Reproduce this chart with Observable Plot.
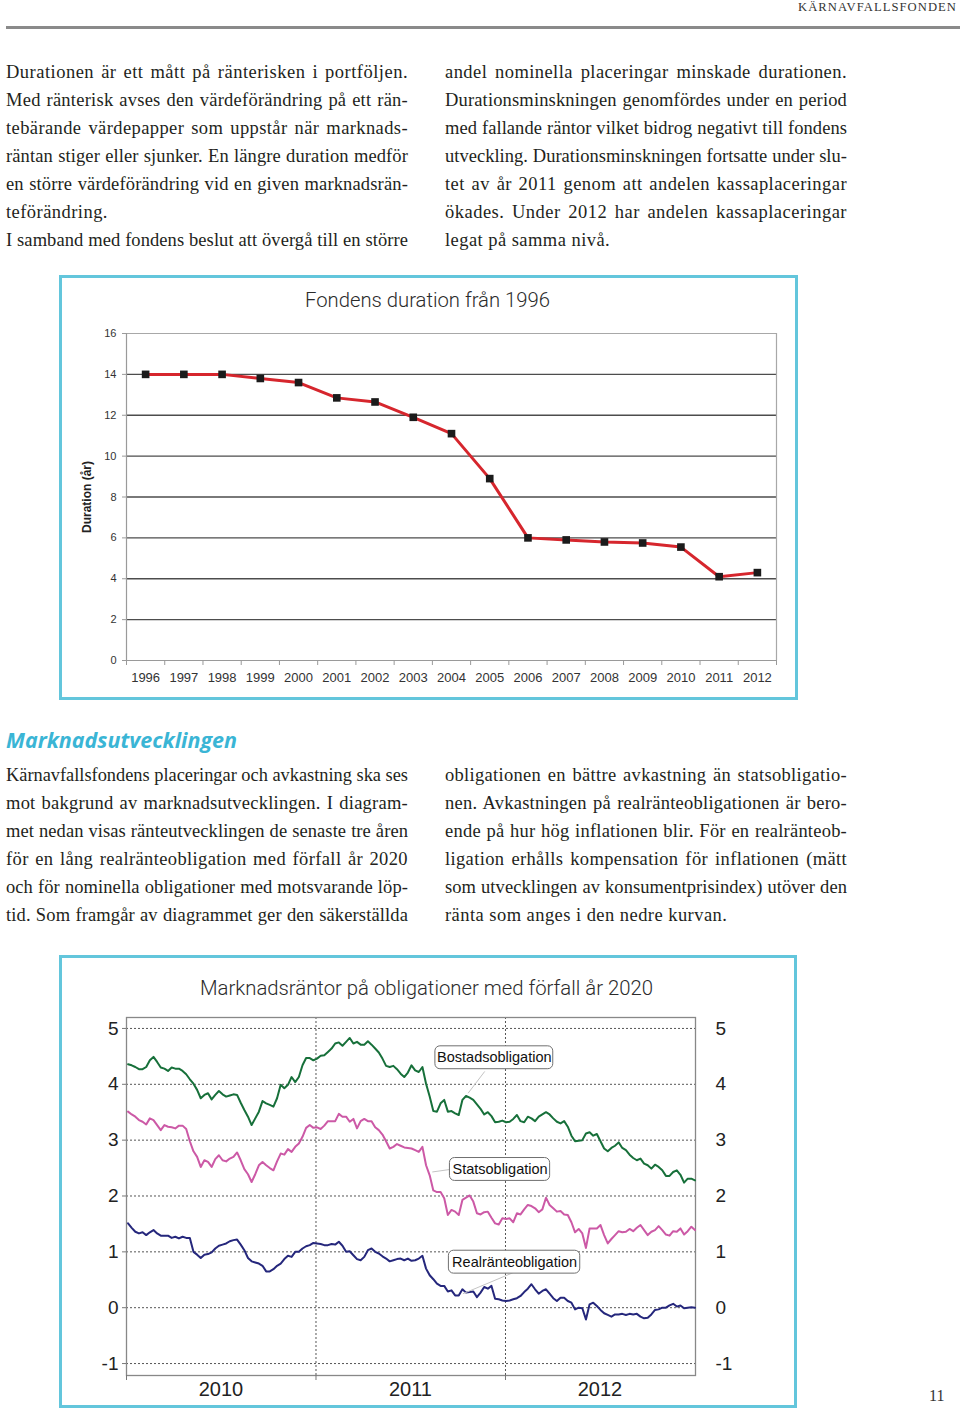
<!DOCTYPE html>
<html>
<head>
<meta charset="utf-8">
<script src="https://cdn.jsdelivr.net/npm/d3@7"></script>
<script src="https://cdn.jsdelivr.net/npm/@observablehq/plot@0.6"></script>
<style>
  html, body { margin: 0; padding: 0; background: #fff; }
  body { width: 960px; height: 1411px; position: relative; overflow: hidden; color: #231f20; font-family: "Liberation Serif", "Times New Roman", serif; }
  .abs { position: absolute; white-space: nowrap; }
  .tl { font-size: 18.5px; line-height: 28px; }
  .box { position: absolute; border: 3px solid #63c6dc; box-sizing: border-box; }
  .ctitle { font-family: Roboto, "Liberation Sans", sans-serif; font-weight: 300; font-size: 21px; line-height: 28px; color: #2b2b2b; }
  .plotwrap { position: absolute; left: 0; }
</style>
</head>
<body>

<div class="abs" data-w="159" data-mode="s" style="left:798px; top:0px; font-size:12px; line-height:14px; letter-spacing:1px; color:#333;">KÄRNAVFALLSFONDEN</div>
<div class="abs" style="left:6px; top:26px; width:954px; height:3px; background:#8a8a8a;"></div>

<div class="box" style="left:59px; top:275px; width:739px; height:425px;"></div>
<div class="abs ctitle" data-w="245" data-mode="s" style="left:305px; top:286px;">Fondens duration från 1996</div>
<div id="chart1" class="plotwrap" style="top:300px;"></div>

<div class="abs" data-w="231" data-mode="s" style="left:6px; top:726px; font-family:'Open Sans', sans-serif; font-weight:700; font-style:italic; font-size:21px; line-height:28px; color:#3ab5d5;">Marknadsutvecklingen</div>

<div class="box" style="left:59px; top:955px; width:738px; height:453px;"></div>
<div class="abs ctitle" data-w="453" data-mode="s" style="left:200px; top:974px;">Marknadsräntor på obligationer med förfall år 2020</div>
<div id="chart2" class="plotwrap" style="top:1000px;"></div>

<div class="abs" style="left:929px; top:1386px; font-size:16px; line-height:20px; color:#333;">11</div>

<script>
// ---------- Text content ----------
const textLeftTop = [
  ["Durationen är ett mått på ränterisken i portföljen.", "j"],
  ["Med ränterisk avses den värdeförändring på ett rän-", "j"],
  ["tebärande värdepapper som uppstår när marknads-", "j"],
  ["räntan stiger eller sjunker. En längre duration medför", "j"],
  ["en större värdeförändring vid en given marknadsrän-", "j"],
  ["teförändring.", "l"],
  ["I samband med fondens beslut att övergå till en större", "j"]
];
const textRightTop = [
  ["andel nominella placeringar minskade durationen.", "j"],
  ["Durationsminskningen genomfördes under en period", "j"],
  ["med fallande räntor vilket bidrog negativt till fondens", "j"],
  ["utveckling. Durationsminskningen fortsatte under slu-", "j"],
  ["tet av år 2011 genom att andelen kassaplaceringar", "j"],
  ["ökades. Under 2012 har andelen kassaplaceringar", "j"],
  ["legat på samma nivå.", "l"]
];
const textLeftBottom = [
  ["Kärnavfallsfondens placeringar och avkastning ska ses", "j"],
  ["mot bakgrund av marknadsutvecklingen. I diagram-", "j"],
  ["met nedan visas ränteutvecklingen de senaste tre åren", "j"],
  ["för en lång realränteobligation med förfall år 2020", "j"],
  ["och för nominella obligationer med motsvarande löp-", "j"],
  ["tid. Som framgår av diagrammet ger den säkerställda", "j"]
];
const textRightBottom = [
  ["obligationen en bättre avkastning än statsobligatio-", "j"],
  ["nen. Avkastningen på realränteobligationen är bero-", "j"],
  ["ende på hur hög inflationen blir. För en realränteob-", "j"],
  ["ligation erhålls kompensation för inflationen (mätt", "j"],
  ["som utvecklingen av konsumentprisindex) utöver den", "j"],
  ["ränta som anges i den nedre kurvan.", "l"]
];

// ---------- Chart 1 data ----------
const years = ["1996","1997","1998","1999","2000","2001","2002","2003","2004","2005","2006","2007","2008","2009","2010","2011","2012"];
const duration = [14, 14, 14, 13.8, 13.6, 12.85, 12.65, 11.9, 11.1, 8.9, 6.0, 5.9, 5.8, 5.75, 5.55, 4.1, 4.3];
const durTicks = [0, 2, 4, 6, 8, 10, 12, 14, 16];

// ---------- Chart 2 data (weekly readings, Jan 2010 - Dec 2012) ----------
const bostad = [4.36,4.34,4.31,4.27,4.27,4.31,4.43,4.49,4.40,4.30,4.28,4.24,4.30,4.28,4.28,4.24,4.18,4.09,4.01,3.90,3.75,3.81,3.84,3.73,3.81,3.88,3.82,3.78,3.80,3.82,3.81,3.67,3.54,3.42,3.27,3.39,3.51,3.70,3.66,
  3.63,3.60,3.75,3.99,3.93,3.99,4.13,4.04,4.13,4.34,4.47,4.47,4.43,4.46,4.51,4.52,4.58,4.64,4.73,4.75,4.69,4.76,4.83,4.73,4.76,4.71,4.71,4.77,4.71,4.64,4.57,4.46,4.33,4.31,4.33,4.27,4.19,4.13,4.21,4.34,
  4.25,4.22,4.31,4.01,3.78,3.52,3.51,3.66,3.72,3.51,3.52,3.48,3.45,3.72,3.79,3.76,3.72,3.64,3.56,3.46,3.50,3.43,3.32,3.33,3.35,3.32,3.33,3.38,3.45,3.34,3.32,3.42,3.39,3.34,3.42,3.46,3.50,3.46,3.39,3.33,
  3.30,3.34,3.24,3.08,2.98,2.99,3.00,3.12,3.14,3.08,3.11,2.98,2.85,2.80,2.86,2.90,2.96,2.86,2.82,2.74,2.68,2.64,2.67,2.58,2.55,2.49,2.56,2.52,2.46,2.36,2.36,2.43,2.46,2.38,2.24,2.31,2.31,2.28];
const stats = [3.51,3.46,3.42,3.36,3.33,3.28,3.39,3.36,3.27,3.18,3.27,3.24,3.23,3.21,3.26,3.26,3.20,2.98,2.80,2.70,2.52,2.64,2.61,2.52,2.66,2.73,2.64,2.62,2.67,2.70,2.78,2.64,2.48,2.39,2.25,2.39,2.55,2.61,2.55,
  2.50,2.46,2.62,2.76,2.74,2.84,2.79,2.88,2.94,3.06,3.22,3.27,3.22,3.23,3.20,3.26,3.34,3.34,3.34,3.47,3.42,3.42,3.33,3.38,3.21,3.34,3.38,3.34,3.34,3.23,3.18,3.10,2.98,2.85,2.88,2.93,2.90,2.87,2.86,2.85,
  2.82,2.79,2.88,2.55,2.37,2.10,2.07,2.07,1.96,1.66,1.75,1.72,1.66,1.93,1.97,2.01,1.90,1.69,1.67,1.71,1.72,1.61,1.51,1.49,1.60,1.59,1.60,1.53,1.69,1.67,1.76,1.84,1.82,1.78,1.71,1.76,1.97,1.84,1.78,1.72,
  1.73,1.67,1.66,1.53,1.35,1.41,1.33,1.07,1.42,1.42,1.42,1.48,1.30,1.15,1.23,1.30,1.37,1.35,1.36,1.41,1.37,1.43,1.48,1.39,1.30,1.36,1.39,1.46,1.39,1.31,1.29,1.37,1.36,1.42,1.31,1.37,1.45,1.39];
const real = [1.51,1.43,1.36,1.33,1.35,1.30,1.35,1.39,1.33,1.29,1.29,1.29,1.25,1.27,1.24,1.27,1.25,1.25,1.00,0.95,0.89,0.95,0.96,0.99,1.06,1.11,1.13,1.15,1.19,1.21,1.22,1.13,1.03,0.89,0.83,0.81,0.79,0.75,0.65,
  0.65,0.69,0.75,0.79,0.87,0.93,0.91,1.00,1.00,1.06,1.10,1.12,1.16,1.15,1.14,1.12,1.12,1.14,1.13,1.18,1.11,1.00,1.01,0.94,0.87,0.85,0.91,1.03,1.06,1.00,0.97,0.92,0.88,0.83,0.85,0.87,0.88,0.85,0.88,0.84,
  0.85,0.88,0.93,0.70,0.58,0.51,0.43,0.39,0.39,0.29,0.31,0.22,0.22,0.33,0.27,0.28,0.29,0.19,0.27,0.37,0.34,0.39,0.16,0.15,0.13,0.12,0.13,0.15,0.17,0.21,0.28,0.34,0.42,0.33,0.25,0.30,0.33,0.25,0.17,0.12,
  0.18,0.18,0.12,0.09,-0.03,0.00,-0.01,-0.21,0.06,0.09,0.03,-0.04,-0.10,-0.13,-0.16,-0.12,-0.12,-0.11,-0.13,-0.11,-0.12,-0.11,-0.16,-0.19,-0.18,-0.12,-0.04,-0.03,0.00,0.00,0.04,0.07,0.02,0.04,-0.01,0.00,0.01,0.00];
const rateTicks = [-1, 0, 1, 2, 3, 4, 5];
const yearStarts = ["2010-01-01", "2011-01-01", "2012-01-01"];
const yearLabelDates = ["2010-07-02", "2011-07-02", "2012-07-01"];

const seriesLabels = ["Bostadsobligation", "Statsobligation", "Realränteobligation"];
const labelBoxX1 = ["2011-08-19", "2011-09-16", "2011-09-14"];
const labelBoxX2 = ["2012-04-02", "2012-03-27", "2012-05-24"];
const labelBoxY1 = [4.27, 2.27, 0.61];
const labelBoxY2 = [4.68, 2.68, 1.02];
const leaderX1 = ["2011-11-22", "2011-09-20", "2012-01-15"];
const leaderY1 = [4.23, 2.48, 0.625];
const leaderX2 = ["2011-10-21", "2011-08-13", "2011-10-11"];
const leaderY2 = [3.84, 2.43, 0.25];

// ---------- Text layout ----------
function placeLines(lines, left, top0, width) {
  lines.forEach(([t, mode], i) => {
    const d = document.createElement("div");
    d.className = "abs tl";
    d.style.left = left + "px";
    d.style.top = (top0 + i * 28) + "px";
    d.textContent = t;
    d.dataset.w = width;
    d.dataset.mode = mode;
    document.body.appendChild(d);
  });
}
placeLines(textLeftTop, 6, 58, 402);
placeLines(textRightTop, 445, 58, 402);
placeLines(textLeftBottom, 6, 761, 402);
placeLines(textRightBottom, 445, 761, 402);

// ---------- Chart 1 ----------
const durData = years.map((y, i) => ({i, v: duration[i]}));
const chart1 = Plot.plot({
  width: 960, height: 400,
  marginLeft: 126, marginRight: 184, marginTop: 33, marginBottom: 40,
  style: {fontFamily: "'Liberation Sans', Arial, sans-serif", color: "#333", background: "transparent"},
  x: {type: "linear", domain: [-0.5, years.length - 0.5], label: null},
  y: {domain: [0, 16], label: null},
  marks: [
    Plot.ruleY(durTicks.filter(d => d > 0 && d < 16), {stroke: "#4d4d4d", strokeWidth: 1.4}),
    Plot.ruleY([16], {stroke: "#a8a8a8", strokeWidth: 1.2}),
    Plot.ruleY([0], {stroke: "#9a9a9a", strokeWidth: 1.2}),
    Plot.ruleX([-0.5], {stroke: "#9a9a9a", strokeWidth: 1.2}),
    Plot.ruleX([years.length - 0.5], {stroke: "#a8a8a8", strokeWidth: 1.2}),
    Plot.axisY({ticks: durTicks, tickSize: 4, tickPadding: 6, fontSize: 11, stroke: "#9a9a9a", fill: "#333", label: null}),
    Plot.axisX({ticks: d3.range(-0.5, years.length, 1), tickSize: 5, tickFormat: () => "", stroke: "#9a9a9a", label: null}),
    Plot.axisX({ticks: d3.range(years.length), tickSize: 0, tickPadding: 12, fontSize: 13, tickFormat: i => years[i], fill: "#333", label: null}),
    Plot.line(durData, {x: "i", y: "v", stroke: "#d6262d", strokeWidth: 3}),
    Plot.dot(durData, {x: "i", y: "v", symbol: "square", fill: "#1b1b1b", r: 4.3}),
    Plot.text(["Duration (år)"], {frameAnchor: "left", textAnchor: "middle", dx: -39, rotate: -90, fontWeight: "bold", fontSize: 12, fill: "#222"})
  ]
});
document.getElementById("chart1").appendChild(chart1);

// ---------- Chart 2 ----------
const weekDates = d3.utcMonday.range(new Date(Date.UTC(2010, 0, 4)), new Date(Date.UTC(2013, 0, 2)));
const mk = arr => arr.map((v, k) => ({date: weekDates[k], v})).filter(d => d.date);
const dt = s => new Date(s + "T00:00:00Z");
const boxes = seriesLabels.map((label, i) => ({
  label,
  x1: dt(labelBoxX1[i]), x2: dt(labelBoxX2[i]),
  y1: labelBoxY1[i], y2: labelBoxY2[i],
  xm: new Date((dt(labelBoxX1[i]).getTime() + dt(labelBoxX2[i]).getTime()) / 2),
  ym: (labelBoxY1[i] + labelBoxY2[i]) / 2
}));
const leaders = seriesLabels.map((label, i) => ({
  x1: dt(leaderX1[i]), y1: leaderY1[i], x2: dt(leaderX2[i]), y2: leaderY2[i]
}));
const intFmt = d => (d < 0 ? "-" : "") + Math.abs(d);

const chart2 = Plot.plot({
  width: 960, height: 410,
  marginLeft: 126, marginRight: 265, marginTop: 17, marginBottom: 35,
  style: {fontFamily: "'Liberation Sans', Arial, sans-serif", color: "#222", background: "transparent"},
  x: {type: "utc", domain: [dt("2010-01-01"), dt("2013-01-01")], label: null},
  y: {domain: [-1.214, 5.196], label: null},
  marks: [
    Plot.ruleY(rateTicks, {stroke: "#555", strokeDasharray: "2,2", strokeWidth: 1}),
    Plot.ruleX(yearStarts.slice(1).map(dt), {stroke: "#555", strokeDasharray: "2,2", strokeWidth: 1}),
    Plot.frame({stroke: "#888", strokeWidth: 1.3}),
    Plot.axisY({anchor: "left", ticks: rateTicks, tickSize: 4, tickPadding: 4, fontSize: 19, tickFormat: intFmt, stroke: "#777", fill: "#222", label: null}),
    Plot.axisY({anchor: "right", ticks: rateTicks, tickSize: 0, tickPadding: 20, fontSize: 19, tickFormat: intFmt, fill: "#222", label: null}),
    Plot.axisX({ticks: yearStarts.map(dt), tickSize: 5, tickFormat: () => "", stroke: "#777", label: null}),
    Plot.axisX({ticks: yearLabelDates.map(dt), tickSize: 0, tickPadding: 6, fontSize: 20, tickFormat: d => String(d.getUTCFullYear()), fill: "#222", label: null}),
    Plot.line(mk(bostad), {x: "date", y: "v", stroke: "#17703a", strokeWidth: 2}),
    Plot.line(mk(stats), {x: "date", y: "v", stroke: "#cc59a6", strokeWidth: 2}),
    Plot.line(mk(real), {x: "date", y: "v", stroke: "#25277c", strokeWidth: 2}),
    Plot.link(leaders, {x1: "x1", y1: "y1", x2: "x2", y2: "y2", stroke: "#c4c4c4", strokeWidth: 1}),
    Plot.rect(boxes, {x1: "x1", x2: "x2", y1: "y1", y2: "y2", rx: 5, fill: "white", stroke: "#6f6f6f", strokeWidth: 1}),
    Plot.text(boxes, {x: "xm", y: "ym", text: "label", fontSize: 14.5, fill: "#111"})
  ]
});
document.getElementById("chart2").appendChild(chart2);

// ---------- Fit text widths ----------
document.querySelectorAll("[data-w]").forEach(el => {
  const target = +el.dataset.w;
  const mode = el.dataset.mode;
  if (mode === "j" || mode === "l") {
    const nChars = el.textContent.length;
    let nat = el.getBoundingClientRect().width;
    if (mode === "l") {
      el.style.letterSpacing = "0.45px";
      return;
    }
    if (nat < target) {
      const ls = Math.min(0.6, 0.65 * (target - nat) / nChars);
      el.style.letterSpacing = ls + "px";
      nat = el.getBoundingClientRect().width;
    }
    const spaces = (el.textContent.match(/ /g) || []).length;
    if (nat < target && spaces) {
      el.style.wordSpacing = ((target - nat) / spaces) + "px";
    } else if (nat > target) {
      el.style.transformOrigin = "0 0";
      el.style.transform = `scaleX(${target / nat})`;
    }
  } else if (mode === "s") {
    const nat = el.getBoundingClientRect().width;
    el.style.transformOrigin = "0 0";
    el.style.transform = `scaleX(${target / nat})`;
  }
});
</script>
</body>
</html>
